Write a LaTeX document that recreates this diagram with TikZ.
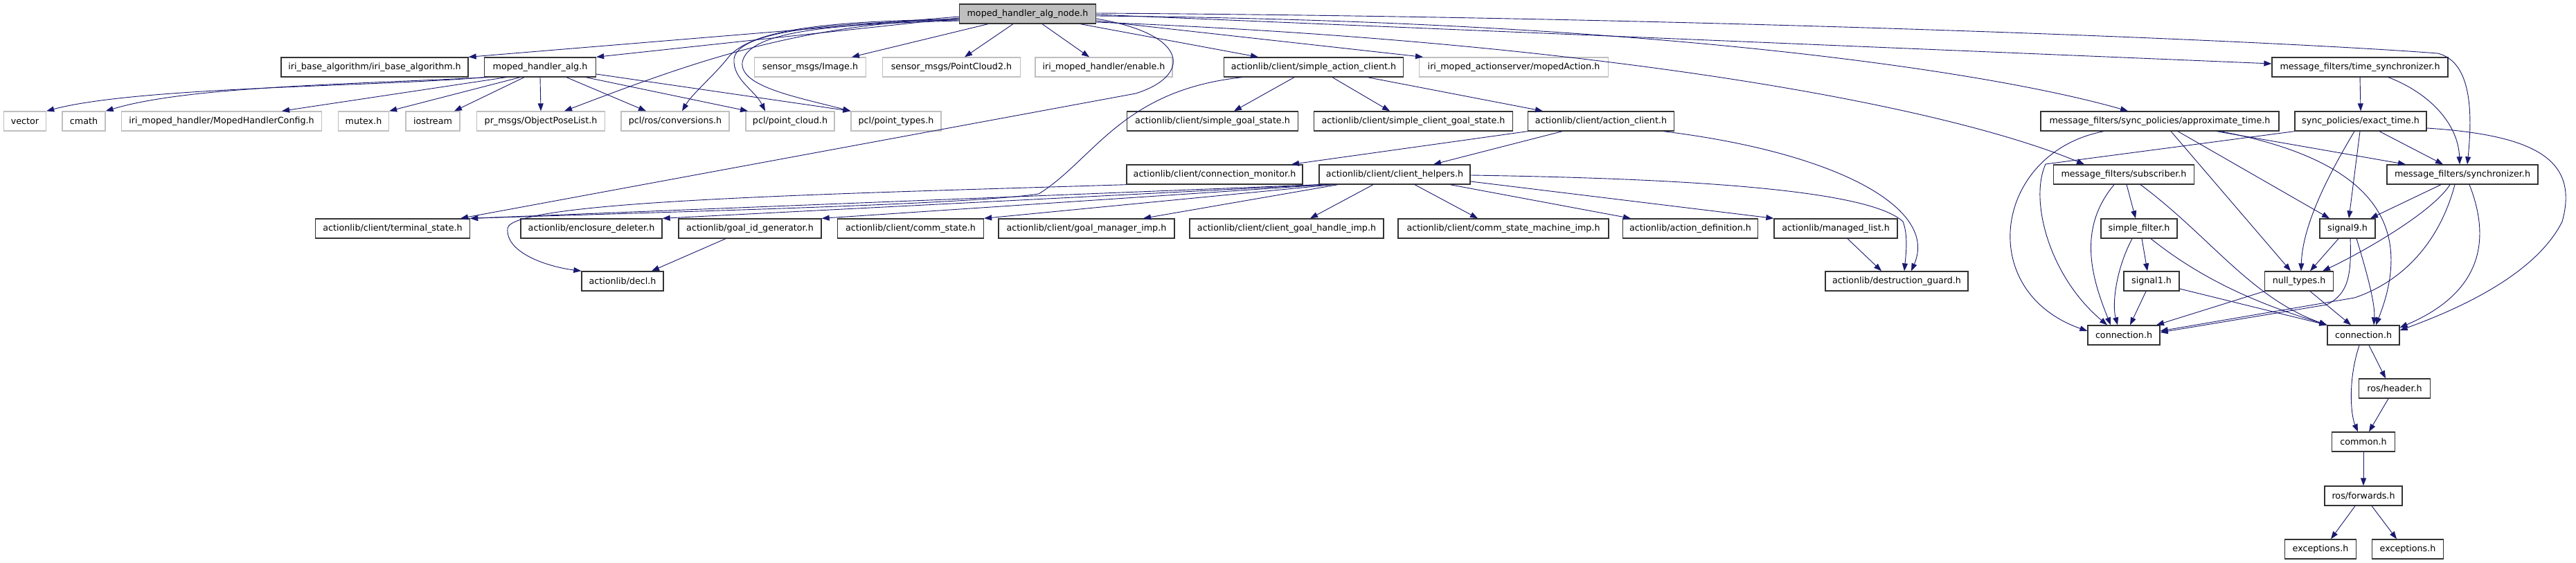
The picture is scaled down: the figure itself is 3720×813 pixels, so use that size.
\documentclass[tikz,border=0pt]{standalone}
\usepackage{fontspec}
\setmainfont{DejaVu Sans}
\usetikzlibrary{arrows.meta}
\definecolor{edgeblue}{HTML}{191970}
\definecolor{boxgray}{HTML}{BFBFBF}

\begin{document}
\begin{tikzpicture}[x=1pt, y=-1pt,
    hdr/.style={rectangle, draw=black!80, line width=1.3pt, fill=white, minimum height=28pt, inner sep=0pt, font=\fontsize{12.7}{15}\selectfont},
    extfile/.style={hdr, draw=boxgray},
    topfile/.style={hdr, fill=boxgray},
    dep/.style={draw=edgeblue, line width=0.9pt, -{Triangle[length=11pt, width=8pt]}}
]
    \fill[white] (0,0) rectangle (3720,813);
    \useasboundingbox (0,0) rectangle (3720,813);

    % the file itself
    \node[topfile, minimum width=197pt] (n0) at (1484,20) {moped\_handler\_alg\_node.h};

    % documented headers: name/x/y/width/label
    \foreach \n/\x/\y/\w/\t in {
        iribase/541/97/270/{iri\_base\_algorithm/iri\_base\_algorithm.h},
        mha/780/97/161/{moped\_handler\_alg.h},
        sac/1897/97/259/{actionlib/client/simple\_action\_client.h},
        tsync/3408/97/254/{message\_filters/time\_synchronizer.h},
        sgs/1751/175/247/{actionlib/client/simple\_goal\_state.h},
        scgs/2041/175/287/{actionlib/client/simple\_client\_goal\_state.h},
        acl/2312/175/211/{actionlib/client/action\_client.h},
        apt/3119/175/344/{message\_filters/sync\_policies/approximate\_time.h},
        ext/3409/175/190/{sync\_policies/exact\_time.h},
        cmon/1754/252/254/{actionlib/client/connection\_monitor.h},
        chlp/2014/252/218/{actionlib/client/client\_helpers.h},
        msub/3067/252/203/{message\_filters/subscriber.h},
        msyn/3556/252/218/{message\_filters/synchronizer.h},
        term/567/330/223/{actionlib/client/terminal\_state.h},
        encl/854/330/204/{actionlib/enclosure\_deleter.h},
        gidg/1083/330/206/{actionlib/goal\_id\_generator.h},
        cst/1315/330/211/{actionlib/client/comm\_state.h},
        gmi/1569/330/254/{actionlib/client/goal\_manager\_imp.h},
        cghi/1858/330/280/{actionlib/client/client\_goal\_handle\_imp.h},
        csmi/2171/330/304/{actionlib/client/comm\_state\_machine\_imp.h},
        adef/2441/330/195/{actionlib/action\_definition.h},
        mlst/2651/330/178/{actionlib/managed\_list.h},
        sflt/3089/330/110/{simple\_filter.h},
        sig9/3390/330/80/{signal9.h},
        decl/899/406/118/{actionlib/decl.h},
        dguard/2739/406/206/{actionlib/destruction\_guard.h},
        sig1/3107/406/80/{signal1.h},
        ntyp/3320/406/99/{null\_types.h},
        conn1/3067/484/104/{connection.h},
        conn2/3413/484/104/{connection.h},
        rhdr/3458/561/103/{ros/header.h},
        cmn/3413/638/91/{common.h},
        rfwd/3413/716/112/{ros/forwards.h},
        exc1/3351/793/103/{exceptions.h},
        exc2/3477/793/103/{exceptions.h}}
        \node[hdr, minimum width=\w pt] (\n) at (\x,\y) {\t};

    % headers found outside the docs
    \foreach \n/\x/\y/\w/\t in {
        img/1170/97/161/{sensor\_msgs/Image.h},
        pc2/1374/97/199/{sensor\_msgs/PointCloud2.h},
        enab/1594/97/198/{iri\_moped\_handler/enable.h},
        mact/2186/97/273/{iri\_moped\_actionserver/mopedAction.h},
        vec/36/175/61/{vector},
        cmath/121/175/62/{cmath},
        mhcfg/320/175/289/{iri\_moped\_handler/MopedHandlerConfig.h},
        mutex/525/175/73/{mutex.h},
        iostr/625/175/78/{iostream},
        opl/781/175/185/{pr\_msgs/ObjectPoseList.h},
        conv/975/175/156/{pcl/ros/conversions.h},
        pcld/1141/175/128/{pcl/point\_cloud.h},
        ptyp/1294/175/130/{pcl/point\_types.h}}
        \node[extfile, minimum width=\w pt] (\n) at (\x,\y) {\t};

    % includes of the node file
    \draw[dep] (n0.west |- 0,24) -- (iribase.north east);
    \draw[dep] (n0.west |- 0,26) -- (mha.north east);
    \draw[dep] (n0.west |- 0,27) .. controls (1150,35) and (1000,90) .. (815,0 |- opl.north);
    \draw[dep] (n0.west |- 0,28) .. controls (1180,30) and (1080,45) .. (1050,85) .. controls (1030,110) and (1000,135) .. (985,0 |- conv.north);
    \draw[dep] (n0.west |- 0,29) .. controls (1200,32) and (1065,45) .. (1060,85) .. controls (1058,115) and (1090,130) .. (1105,0 |- pcld.north);
    \draw[dep] (n0.west |- 0,30) .. controls (1200,35) and (1080,45) .. (1072,90) .. controls (1068,125) and (1150,140) .. (ptyp.north west);
    \draw[dep] (1427,0 |- n0.south) -- (1230,0 |- img.north);
    \draw[dep] (1463,0 |- n0.south) -- (1393,0 |- pc2.north);
    \draw[dep] (1505,0 |- n0.south) -- (1573,0 |- enab.north);
    \draw[dep] (1560,0 |- n0.south) -- (1817,0 |- sac.north);
    \draw[dep] (n0.east |- 0,30) -- (2055,0 |- mact.north);
    \draw[dep] (n0.east |- 0,27) .. controls (1720,50) and (1720,110) .. (1640,135) -- (665,0 |- term.north);
    \draw[dep] (n0.east |- 0,21) -- (tsync.west |- 0,92);
    \draw[dep] (n0.east |- 0,19) .. controls (2500,25) and (3300,60) .. (3520,77) .. controls (3565,88) and (3572,150) .. (3563,0 |- msyn.north);
    \draw[dep] (n0.east |- 0,23) .. controls (2400,30) and (2880,105) .. (3073,0 |- apt.north);
    \draw[dep] (n0.east |- 0,32) .. controls (2300,60) and (2800,150) .. (3010,0 |- msub.north);

    % moped_handler_alg.h
    \draw[dep] (mha.south west) .. controls (550,125) and (200,125) .. (vec.north east);
    \draw[dep] (705,0 |- mha.south) .. controls (500,122) and (270,125) .. (cmath.north east);
    \draw[dep] (731,0 |- mha.south) -- (407,0 |- mhcfg.north);
    \draw[dep] (751,0 |- mha.south) -- (mutex.north east);
    \draw[dep] (757,0 |- mha.south) -- (656,0 |- iostr.north);
    \draw[dep] (mha.south) -- (opl.north);
    \draw[dep] (818,0 |- mha.south) -- (933,0 |- conv.north);
    \draw[dep] (846,0 |- mha.south) -- (1080,0 |- pcld.north);
    \draw[dep] (mha.east |- 0,107) -- (ptyp.north west);

    % actionlib client side
    \draw[dep] (1869,0 |- sac.south) -- (1782,0 |- sgs.north);
    \draw[dep] (1924,0 |- sac.south) -- (2007,0 |- scgs.north);
    \draw[dep] (1975,0 |- sac.south) -- (2228,0 |- acl.north);
    \draw[dep] (1794,0 |- sac.south) .. controls (1620,130) and (1580,230) .. (1500,280) .. controls (1400,295) and (1000,305) .. (term.north east);
    \draw[dep] (acl.south west) -- (1865,0 |- cmon.north);
    \draw[dep] (2256,0 |- acl.south) -- (2070,0 |- chlp.north);
    \draw[dep] (2402,0 |- acl.south) .. controls (2650,220) and (2800,300) .. (2760,0 |- dguard.north);
    \draw[dep] (cmon.south west) .. controls (1200,280) and (735,290) .. (733,330) .. controls (730,365) and (790,385) .. (decl.north west);
    \draw[dep] (chlp.south west) -- (term.north east);
    \draw[dep] (1910,0 |- chlp.south) -- (encl.north east);
    \draw[dep] (1916,0 |- chlp.south) -- (gidg.north east);
    \draw[dep] (1925,0 |- chlp.south) -- (cst.north east);
    \draw[dep] (1932,0 |- chlp.south) -- (1651,0 |- gmi.north);
    \draw[dep] (1983,0 |- chlp.south) -- (1892,0 |- cghi.north);
    \draw[dep] (2043,0 |- chlp.south) -- (2134,0 |- csmi.north);
    \draw[dep] (2094,0 |- chlp.south) -- (2355,0 |- adef.north);
    \draw[dep] (chlp.east |- 0,262) -- (mlst.north west);
    \draw[dep] (chlp.east |- 0,253) .. controls (2450,258) and (2700,275) .. (2748,320) .. controls (2756,340) and (2752,370) .. (2750,0 |- dguard.north);
    \draw[dep] (1048,0 |- gidg.south) -- (941,0 |- decl.north);
    \draw[dep] (2668,0 |- mlst.south) -- (2717,0 |- dguard.north);

    % message_filters
    \draw[dep] (tsync.south) -- (ext.north);
    \draw[dep] (3449,0 |- tsync.south) .. controls (3510,135) and (3550,180) .. (3552,0 |- msyn.north);
    \draw[dep] (3038,0 |- apt.south) .. controls (2880,220) and (2850,420) .. (conn1.west |- 0,478);
    \draw[dep] (3135,0 |- apt.south) -- (3308,0 |- ntyp.north);
    \draw[dep] (3145,0 |- apt.south) -- (3364,0 |- sig9.north);
    \draw[dep] (3201,0 |- apt.south) -- (3474,0 |- msyn.north);
    \draw[dep] (3206,0 |- apt.south) .. controls (3420,230) and (3490,320) .. (3431,0 |- conn2.north);
    \draw[dep] (ext.south west) -- (2954,237) .. controls (2930,290) and (2960,400) .. (3043,0 |- conn1.north);
    \draw[dep] (3400,0 |- ext.south) .. controls (3370,240) and (3325,320) .. (3323,0 |- ntyp.north);
    \draw[dep] (3408,0 |- ext.south) -- (3392,0 |- sig9.north);
    \draw[dep] (3436,0 |- ext.south) -- (3528,0 |- msyn.north);
    \draw[dep] (ext.east |- 0,185) .. controls (3660,195) and (3725,230) .. (3700,320) .. controls (3660,400) and (3540,450) .. (conn2.east |- 0,477);
    \draw[dep] (3525,0 |- msyn.south) -- (3423,0 |- sig9.north);
    \draw[dep] (3538,0 |- msyn.south) .. controls (3510,310) and (3400,370) .. (3354,0 |- ntyp.north);
    \draw[dep] (3545,0 |- msyn.south) .. controls (3520,360) and (3460,410) .. (3400,430) -- (conn1.east |- 0,478);
    \draw[dep] (3566,0 |- msyn.south) .. controls (3595,340) and (3590,420) .. (conn2.east |- 0,473);
    \draw[dep] (3053,0 |- msub.south) .. controls (3000,330) and (3020,400) .. (3048,0 |- conn1.north);
    \draw[dep] (3071,0 |- msub.south) -- (3084,0 |- sflt.north);
    \draw[dep] (3091,0 |- msub.south) .. controls (3190,340) and (3250,430) .. (conn2.north west);
    \draw[dep] (3079,0 |- sflt.south) .. controls (3055,390) and (3050,440) .. (3058,0 |- conn1.north);
    \draw[dep] (3093,0 |- sflt.south) -- (3101,0 |- sig1.north);
    \draw[dep] (3106,0 |- sflt.south) .. controls (3200,420) and (3300,450) .. (conn2.north west);
    \draw[dep] (3099,0 |- sig1.south) -- (3076,0 |- conn1.north);
    \draw[dep] (sig1.east |- 0,417) -- (conn2.north west);
    \draw[dep] (3377,0 |- sig9.south) -- (3336,0 |- ntyp.north);
    \draw[dep] (3394,0 |- sig9.south) .. controls (3396,400) and (3390,425) .. (3360,440) -- (conn1.east |- 0,480);
    \draw[dep] (3403,0 |- sig9.south) .. controls (3420,400) and (3430,440) .. (3428,0 |- conn2.north);
    \draw[dep] (ntyp.south west) -- (3114,0 |- conn1.north);
    \draw[dep] (3336,0 |- ntyp.south) -- (3395,0 |- conn2.north);

    % ros connection chain
    \draw[dep] (3421,0 |- conn2.south) -- (3445,0 |- rhdr.north);
    \draw[dep] (3407,0 |- conn2.south) .. controls (3390,550) and (3395,600) .. (3405,0 |- cmn.north);
    \draw[dep] (3449,0 |- rhdr.south) -- (3421,0 |- cmn.north);
    \draw[dep] (cmn.south) -- (rfwd.north);
    \draw[dep] (3401,0 |- rfwd.south) -- (3366,0 |- exc1.north);
    \draw[dep] (3425,0 |- rfwd.south) -- (3461,0 |- exc2.north);

\end{tikzpicture}
\end{document}
